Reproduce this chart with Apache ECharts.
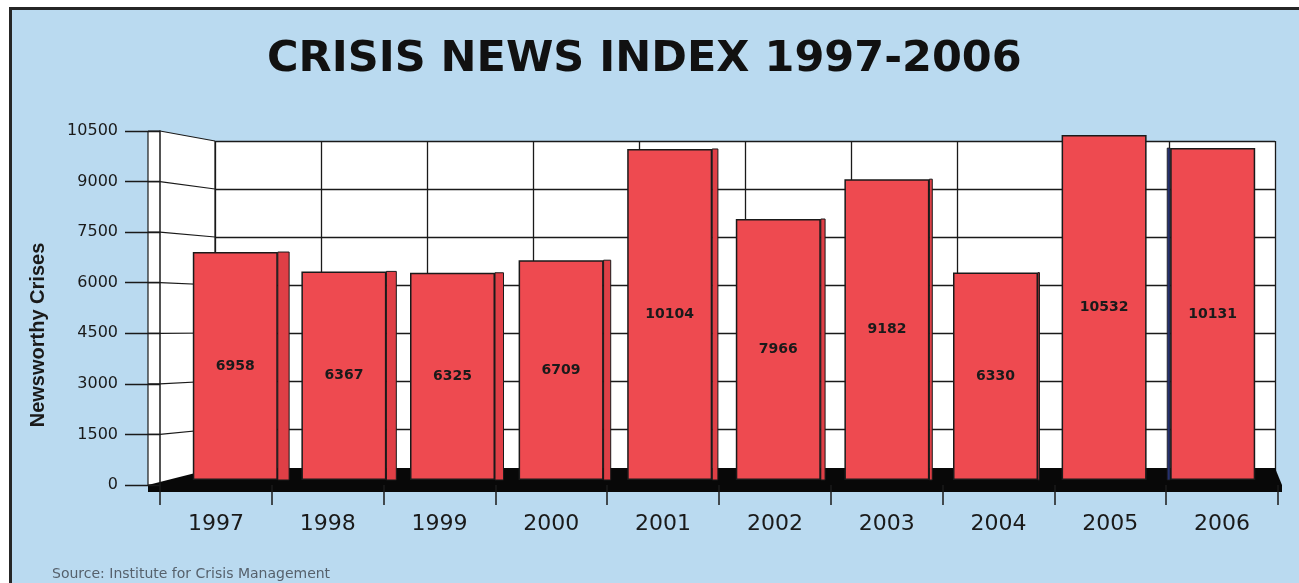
<!DOCTYPE html>
<html>
<head>
<meta charset="utf-8">
<script src="https://cdn.jsdelivr.net/npm/echarts@6/dist/echarts.min.js"></script>
<style>
html,body{margin:0;padding:0;background:#ffffff;overflow:hidden;width:1299px;height:583px;}
#wrap{position:absolute;left:9px;top:7px;width:1290px;height:576px;border-left:3px solid #262626;border-top:3px solid #262626;background:#badaf0;overflow:hidden;}
#chart{position:absolute;left:-12px;top:-10px;width:1299px;height:583px;}
</style>
</head>
<body>
<div id="wrap"><div id="chart"></div></div>
<script>
// ---- data ----
const years = ['1997','1998','1999','2000','2001','2002','2003','2004','2005','2006'];
const crises = [6958, 6367, 6325, 6709, 10104, 7966, 9182, 6330, 10532, 10131];
const yTickValues = [0, 1500, 3000, 4500, 6000, 7500, 9000, 10500];
const titleText = 'CRISIS NEWS INDEX 1997-2006';
const yAxisName = 'Newsworthy Crises';
const sourceText = 'Source: Institute for Crisis Management';

// ---- layout (style constants) ----
const GA = {left:160, top:131, width:1118, height:354}; // front axis frame
const GB = {left:215, top:141, width:1060, height:336}; // back wall
const GC = {left:181, top:136, width:1086, height:344}; // bars
const INK = '#1a1a1a';
const BAR_W = 85;
const VPX = 1150, K = 0.013;

const chart = echarts.init(document.getElementById('chart'), null, {renderer:'canvas'});

const option = {
  animation: false,
  backgroundColor: 'transparent',
  title: {
    text: titleText, left: 262, top: 33,
    textStyle: {fontFamily: 'DejaVu Sans', fontWeight: 'bold', fontSize: 43, color: '#111'}
  },
  grid: [
    Object.assign({show:false}, GA),
    Object.assign({show:true, backgroundColor:'#ffffff', borderWidth:0}, GB),
    Object.assign({show:false}, GC)
  ],
  xAxis: [
    {gridIndex:0, type:'category', data: years, boundaryGap:true, z:5,
     axisLine:{show:false},
     axisTick:{show:true, interval:0, length:20, lineStyle:{color:INK, width:1.5}},
     axisLabel:{interval:0, margin:28, fontFamily:'DejaVu Sans', fontSize:22, color:INK},
     splitLine:{show:false}},
    {gridIndex:1, type:'category', data: years, boundaryGap:true,
     axisLine:{show:false}, axisTick:{show:false}, axisLabel:{show:false},
     splitLine:{show:true, interval:0, lineStyle:{color:INK, width:1.3}}},
    {gridIndex:2, type:'category', data: years, boundaryGap:true, show:false}
  ],
  yAxis: [
    {gridIndex:0, type:'value', min:0, max:10500, interval:1500, z:5,
     name: yAxisName, nameLocation:'middle', nameGap:112,
     nameTextStyle:{fontFamily:'Liberation Sans', fontWeight:'bold', fontSize:20, color:INK, padding:[0,54,0,0]},
     axisLine:{show:true, lineStyle:{color:INK, width:1.5}},
     axisTick:{show:true, length:35, lineStyle:{color:INK, width:1.3}},
     axisLabel:{margin:42, fontFamily:'DejaVu Sans', fontSize:16, color:INK, formatter: v => String(v)},
     splitLine:{show:false}},
    {gridIndex:1, type:'value', min:0, max:10500, interval:1500,
     axisLine:{show:false}, axisTick:{show:false}, axisLabel:{show:false},
     splitLine:{show:true, lineStyle:{color:INK, width:1.3}}},
    {gridIndex:2, type:'value', min:0, max:10500, interval:1500, show:false}
  ],
  series: [
    {
      type:'custom', name:'side', xAxisIndex:2, yAxisIndex:2, z:2, clip:false,
      data: crises.map((v,i)=>[i, v]),
      renderItem: function(params, api){
        const top = api.coord([api.value(0), api.value(1)]);
        const bot = api.coord([api.value(0), 0]);
        const right = top[0] + BAR_W/2;
        const left = top[0] - BAR_W/2;
        let sw = (VPX - right) * K;
        if (sw > 0.5) {
          return {type:'rect', shape:{x:right, y:top[1], width:sw, height:bot[1]-top[1]},
                  style:{fill:'#df3f46', stroke:INK, lineWidth:1}};
        } else if (sw < -0.5) {
          const w = Math.max(3, -sw);
          return {type:'rect', shape:{x:left - w, y:top[1], width:w, height:bot[1]-top[1]},
                  style:{fill:'#25306e', stroke:INK, lineWidth:0.8}};
        }
        return null;
      }
    },
    {
      type:'bar', name:'Newsworthy Crises', xAxisIndex:2, yAxisIndex:2, z:3, clip:false,
      data: crises, barWidth: BAR_W,
      itemStyle:{color:'#ee4a50', borderColor:INK, borderWidth:1.5},
      label:{show:true, position:'inside', fontFamily:'DejaVu Sans', fontWeight:'bold', fontSize:14, color:'#1a1a1a'}
    }
  ]
};
chart.setOption(option);

// ---- 3D decorations derived from the axis scales ----
const yA = v => chart.convertToPixel({yAxisIndex:0}, v);
const yB = v => chart.convertToPixel({yAxisIndex:1}, v);
const vMax = yTickValues[yTickValues.length-1];
const xL0 = GA.left - 12, xL1 = GA.left, xB0 = GB.left, xB1 = GB.left + GB.width, xA1 = GA.left + GA.width;
const g = [];
g.push({type:'polygon', z:1, silent:true,
  shape:{points:[[xL0, yA(vMax)], [xL1, yA(vMax)], [xB0, yB(vMax)], [xB0, yB(0)], [xL1, yA(0)], [xL0, yA(0)]]},
  style:{fill:'#ffffff'}});
g.push({type:'line', z:1, silent:true, shape:{x1:xL0, y1:yA(vMax), x2:xL0, y2:yA(0)}, style:{stroke:INK, lineWidth:1.2}});
g.push({type:'line', z:1, silent:true, shape:{x1:xB0, y1:yB(vMax), x2:xB0, y2:yB(0)}, style:{stroke:INK, lineWidth:1.3}});
yTickValues.forEach(v => {
  g.push({type:'polyline', z:1, silent:true,
    shape:{points:[[xL0, yA(v)], [xL1, yA(v)], [xB0, yB(v)]]},
    style:{stroke:INK, lineWidth:1.2, fill:null}});
});
g.push({type:'polygon', z:1, silent:true,
  shape:{points:[[xL0, yA(0)], [xB0, yB(0)-9], [xB1, yB(0)-9], [xA1+4, yA(0)], [xA1+4, yA(0)+7], [xL0, yA(0)+7]]},
  style:{fill:'#080808'}});
g.push({type:'text', z:1, silent:true, x:52, y:574,
  style:{text:sourceText, fontFamily:'DejaVu Sans', fontSize:14, fill:'#56616c', align:'left', verticalAlign:'middle'}});
chart.setOption({graphic: g});
</script>
</body>
</html>
